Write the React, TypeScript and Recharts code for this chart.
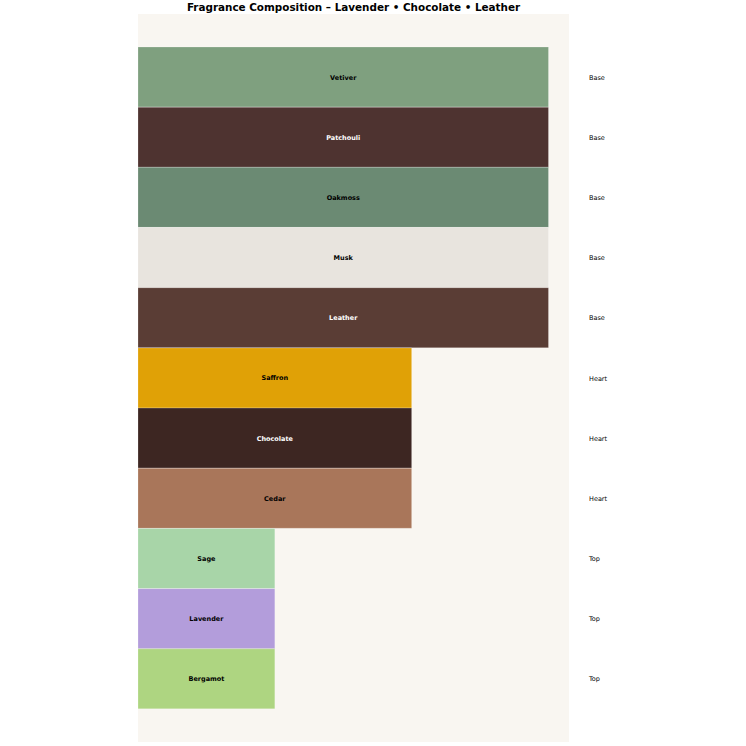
import React from 'react';
import { BarChart, Bar, XAxis, YAxis, CartesianGrid, Cell, LabelList } from 'recharts';

const notes = ['Vetiver', 'Patchouli', 'Oakmoss', 'Musk', 'Leather', 'Saffron', 'Chocolate', 'Cedar', 'Sage', 'Lavender', 'Bergamot'];
const tiers = ['Base', 'Base', 'Base', 'Base', 'Base', 'Heart', 'Heart', 'Heart', 'Top', 'Top', 'Top'];
const levels = [3, 3, 3, 3, 3, 2, 2, 2, 1, 1, 1];
const colors = ['#7fa07f', '#4e3330', '#6b8a73', '#e8e4de', '#5a3d35', '#e0a106', '#3d2622', '#a9765a', '#a8d5a8', '#b39ddb', '#aed581'];
const darkNotes = ['Patchouli', 'Leather', 'Chocolate'];

const data = notes.map((name, i) => ({ name, tier: tiers[i], level: levels[i], color: colors[i] }));

const NoteLabel = (props: any) => {
  const { x, y, width, height, value } = props;
  return (
    <text
      x={x + width / 2}
      y={y + height / 2}
      dy={2.5}
      textAnchor="middle"
      fontFamily="DejaVu Sans"
      fontWeight="bold"
      fontSize={6.5}
      fill={darkNotes.includes(value) ? '#ffffff' : '#000000'}
    >
      {value}
    </text>
  );
};

const TierTick = (props: any) => {
  const { x, y, payload } = props;
  return (
    <text x={x + 12} y={y} dy={2.5} textAnchor="start" fontFamily="DejaVu Sans" fontSize={6.5} fill="#000000">
      {tiers[notes.indexOf(payload.value)]}
    </text>
  );
};

export default function App() {
  return (
    <div style={{ position: 'absolute', left: 0, top: 0, width: 746, height: 746, background: '#ffffff' }}>
      <div
        style={{
          position: 'absolute',
          left: 0,
          width: 707,
          top: 1,
          textAlign: 'center',
          fontFamily: 'DejaVu Sans',
          fontWeight: 'bold',
          fontSize: 10.4,
          color: '#000',
        }}
      >
        Fragrance Composition – Lavender • Chocolate • Leather
      </div>
      <BarChart
        width={746}
        height={746}
        data={data}
        layout="vertical"
        barCategoryGap={0}
        margin={{ top: 14, right: 117, bottom: 4, left: 138 }}
      >
        <CartesianGrid fill="#f9f6f1" stroke="none" horizontal={false} vertical={false} />
        <XAxis type="number" domain={[0, 3.15]} hide />
        <YAxis yAxisId="left" type="category" dataKey="name" hide padding={{ top: 33, bottom: 33 }} />
        <YAxis
          yAxisId="right"
          orientation="right"
          type="category"
          dataKey="name"
          width={60}
          padding={{ top: 33, bottom: 33 }}
          axisLine={false}
          tickLine={false}
          tick={<TierTick />}
          interval={0}
        />
        <Bar yAxisId="left" dataKey="level" isAnimationActive={false} stroke="#ffffff" strokeOpacity={0.35} strokeWidth={0.6}>
          {data.map((d) => (
            <Cell key={d.name} fill={d.color} />
          ))}
          <LabelList dataKey="name" content={<NoteLabel />} />
        </Bar>
      </BarChart>
    </div>
  );
}
